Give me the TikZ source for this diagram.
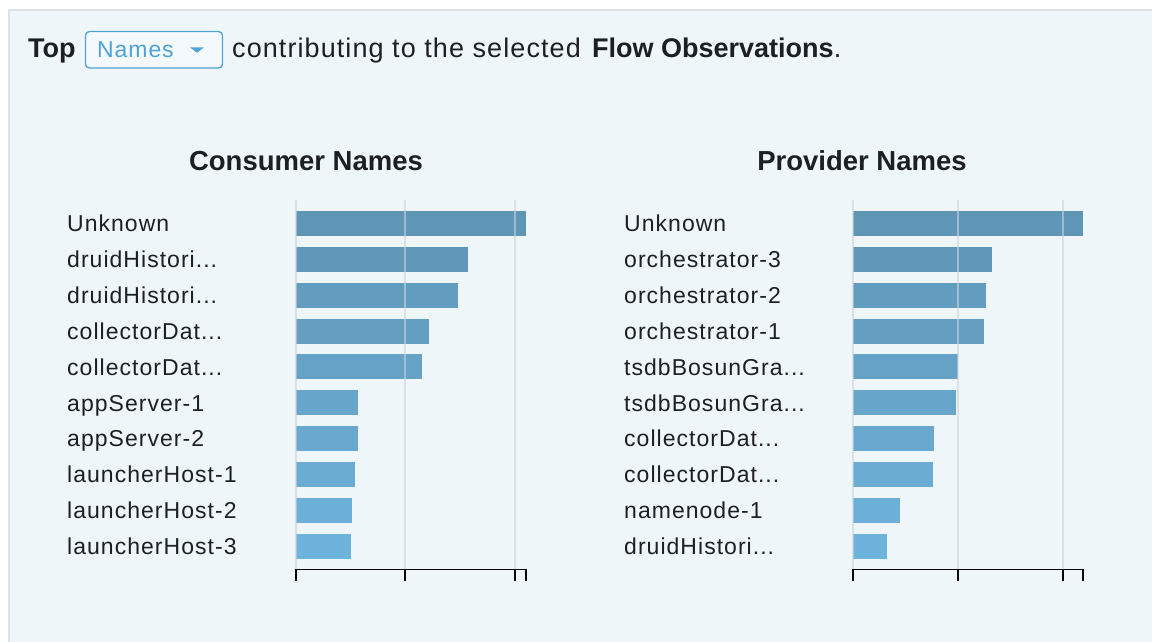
\documentclass[tikz,border=0pt]{standalone}
\usepackage{fontspec}
\setmainfont{Liberation Sans}
\newfontfamily\rowfont{Liberation Sans}[LetterSpace=4.5]
\newfontfamily\leadfont{Liberation Sans}[LetterSpace=4]
\newfontfamily\headfont{Liberation Sans}
\newcommand\cut{...}
\definecolor{panel}{HTML}{EFF6FA}
\definecolor{paneledge}{HTML}{DCE1E5}
\definecolor{ink}{HTML}{1C1F23}
\definecolor{pick}{HTML}{4EA2D6}
\definecolor{pickfill}{HTML}{F4F9FD}
\definecolor{barDark}{HTML}{5F95B5}
\definecolor{barLight}{HTML}{6EB3DB}
\definecolor{gridc}{HTML}{CBD3DA}
\begin{document}
\begin{tikzpicture}[x=1pt,y=-1pt,
  rowlabel/.style={anchor=base west, inner sep=0pt, text=ink,
    font=\rowfont\fontsize{23}{27}\selectfont},
  charttitle/.style={anchor=base, inner sep=0pt, text=ink,
    font=\headfont\bfseries\fontsize{27.5}{32}\selectfont},
  leadtext/.style={anchor=base west, inner sep=0pt, text=ink,
    font=\leadfont\fontsize{27}{31}\selectfont},
  leadbold/.style={anchor=base west, inner sep=0pt, text=ink,
    font=\headfont\bfseries\fontsize{27}{31}\selectfont},
  gridline/.style={draw=gridc, line width=1.2pt, opacity=0.6},
  axisline/.style={draw=black, line width=1.6pt},
]
\useasboundingbox (0,0) rectangle (1152,642);
\fill[white] (0,0) rectangle (1152,642);

% panel
\filldraw[fill=panel, draw=paneledge, line width=1.6pt] (8.8,9.8) rectangle (1160,650);

% heading line
\node[leadbold] (top) at (28,58) {Top};
\filldraw[fill=pickfill, draw=pick, line width=1.3pt, rounded corners=4pt]
  (85.5,31.5) rectangle (222.5,68);
\node[anchor=base west, inner sep=0pt, text=pick,
  font=\leadfont\fontsize{23}{27}\selectfont] (pick) at (97,57.3) {Names};
\fill[pick] (190,47.3) -- (204,47.3) -- (197,52.8) -- cycle;
\node[leadtext] (lead) at (232,58) {contributing to the selected};
\node[leadbold] (flow) at (592,58) {Flow Observations\mdseries.};

% chart titles
\node[charttitle] (ctitle) at (306,170) {Consumer Names};
\node[charttitle] (ptitle) at (862,170) {Provider Names};

% row labels
\foreach \lab [count=\i from 0] in {Unknown,druidHistori\cut,druidHistori\cut,collectorDat\cut,collectorDat\cut,appServer-1,appServer-2,launcherHost-1,launcherHost-2,launcherHost-3}{
  \node[rowlabel] (cl\i) at (67,{223.5+35.85*\i+8.3}) {\lab};
}
\foreach \lab [count=\i from 0] in {Unknown,orchestrator-3,orchestrator-2,orchestrator-1,tsdbBosunGra\cut,tsdbBosunGra\cut,collectorDat\cut,collectorDat\cut,namenode-1,druidHistori\cut}{
  \node[rowlabel] (pl\i) at (624,{223.5+35.85*\i+8.3}) {\lab};
}

% bars
\foreach \e [count=\i from 0] in {525.7,467.7,457.7,429.3,421.5,358,358,355,352,351}{
  \pgfmathsetmacro\c{223.5+35.85*\i}
  \pgfmathtruncatemacro\m{100-100*\i/9}
  \fill[barDark!\m!barLight] (296,{\c-12.5}) rectangle (\e,{\c+12.5});
}
\foreach \e [count=\i from 0] in {1083,992,986,984,958,955.7,934.3,933,900,886.7}{
  \pgfmathsetmacro\c{223.5+35.85*\i}
  \pgfmathtruncatemacro\m{100-100*\i/9}
  \fill[barDark!\m!barLight] (853,{\c-12.5}) rectangle (\e,{\c+12.5});
}

% grid lines
\foreach \x in {296,405,515,853,958,1063}{
  \draw[gridline] (\x,200) -- (\x,569);
}

% axes
\draw[axisline] (296,581) -- (296,569.3) -- (526,569.3) -- (526,581);
\draw[axisline] (405,569.3) -- (405,581);
\draw[axisline] (515,569.3) -- (515,581);
\draw[axisline] (853,581) -- (853,569.3) -- (1083,569.3) -- (1083,581);
\draw[axisline] (958,569.3) -- (958,581);
\draw[axisline] (1063,569.3) -- (1063,581);
\end{tikzpicture}
\end{document}
